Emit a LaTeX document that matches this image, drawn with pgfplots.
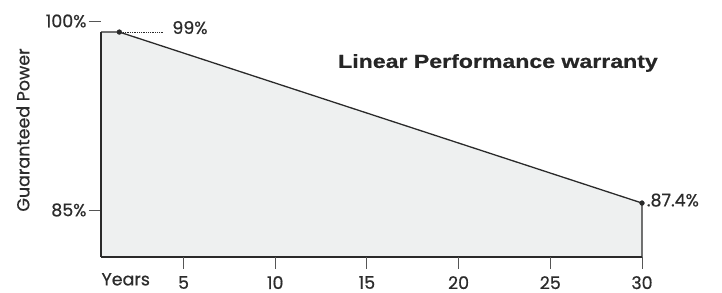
\documentclass[border=0pt]{standalone}
\usepackage{pgfplots}
\pgfplotsset{compat=1.18}
\usepackage{fontspec}
\usepackage{graphicx}
\setmainfont{Poppins}[FakeBold=0.6]
\newfontfamily\titlefont{Liberation Sans}[FakeBold=0.5]
\definecolor{linec}{HTML}{2A2A2A}
\definecolor{tickc}{HTML}{555555}
\definecolor{fillc}{HTML}{EEF0F0}
\definecolor{textc}{HTML}{2C2C2C}
\begin{document}
\begin{tikzpicture}
\begin{axis}[
  at={(0,0)}, anchor=south west,
  scale only axis, width=541bp, height=236bp,
  xmin=0.5, xmax=30, ymin=83.74, ymax=99.75,
  axis x line=bottom, axis y line=left,
  x axis line style={-, linec, line width=1.3pt},
  y axis line style={draw=none},
  xtick={5,10,15,20,25,30},
  ytick={99.75,86.93}, yticklabels={100\%,85\%},
  tick align=outside, major tick length=12bp,
  xtick style={draw=none},
  ytick style={draw=tickc, line width=0.9pt},
  ticklabel style={font=\fontsize{17.5}{20}\selectfont, text=textc},
  xticklabel style={anchor=north, yshift=-7bp, inner sep=0pt},
  yticklabel style={xshift=1bp},
  /pgf/number format/assume math mode=true,
  clip=false,
]
\addplot[fill=fillc, draw=none] coordinates {(0.5,83.74) (0.5,99) (1.5,99) (30,87.4) (30,83.74)} -- cycle;
\addplot[linec, line width=1.3pt] coordinates {(0.5,83.74) (30,83.74)};
\addplot[linec, line width=1.3pt] coordinates {(0.5,83.74) (0.5,99)};
\addplot[linec, line width=1.3pt] coordinates {(0.5,99) (1.5,99) (30,87.4) (30,83.74)};
\addplot[linec, line width=0.8pt, densely dotted] coordinates {(1.5,99) (3.9,99)};
\addplot[only marks, mark=*, mark size=2.4bp, linec] coordinates {(1.5,99) (30,87.4)};
\pgfplotsinvokeforeach{5,10,15,20,25,30}{
  \draw[tickc, line width=0.9pt] (axis cs:#1,83.74) -- ([yshift=-12bp]axis cs:#1,83.74);
}
\node[anchor=west, text=textc, font=\fontsize{17.5}{20}\selectfont] at (axis cs:4.2,99.3) {99\%};
\node[anchor=west, text=textc, font=\fontsize{17.5}{20}\selectfont, inner sep=1bp] at (axis cs:30.2,87.6) {.87.4\%};
\node[anchor=north, inner sep=0pt, text=textc, font=\fontsize{17.5}{20}\selectfont] at (axis cs:1.85,83.74) [yshift=-16bp] {Years};
\end{axis}
\node[rotate=90, text=textc, font=\fontsize{17.5}{20}\selectfont] at (-78bp,127bp) {Guaranteed Power};
\node[text=black!85, font=\titlefont\bfseries\fontsize{19}{22}\selectfont] at (397bp,194bp) {\scalebox{1.22}[1]{Linear Performance warranty}};
\path[use as bounding box] (-101bp,-36bp) rectangle (621bp,257bp);
\end{tikzpicture}
\end{document}
